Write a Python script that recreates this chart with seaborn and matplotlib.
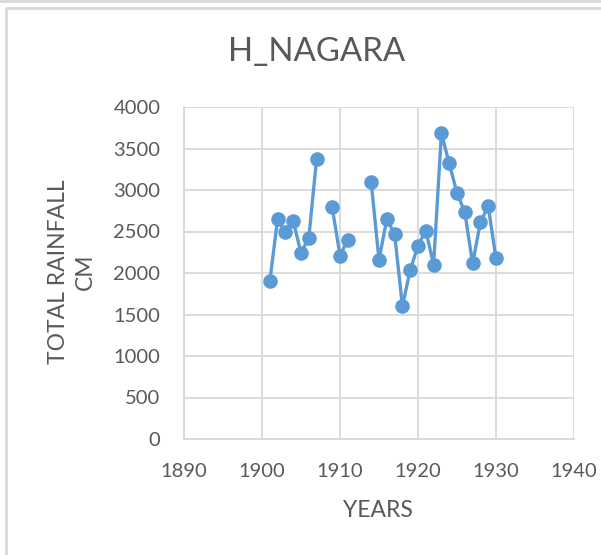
import numpy as np
import pandas as pd
import matplotlib
matplotlib.use("Agg")
import matplotlib.pyplot as plt
from matplotlib.lines import Line2D
import seaborn as sns

# Data (missing years leave gaps in the line)
years = [1901, 1902, 1903, 1904, 1905, 1906, 1907,
         1909, 1910, 1911,
         1914, 1915, 1916, 1917, 1918, 1919, 1920, 1921, 1922, 1923,
         1924, 1925, 1926, 1927, 1928, 1929, 1930]
rainfall = [1900, 2650, 2490, 2630, 2240, 2425, 3375,
            2790, 2210, 2400,
            3095, 2155, 2650, 2470, 1600, 2035, 2330, 2510, 2100, 3685,
            3320, 2965, 2730, 2115, 2610, 2805, 2175]
x_ticks = [1890, 1900, 1910, 1920, 1930, 1940]
y_ticks = [0, 500, 1000, 1500, 2000, 2500, 3000, 3500, 4000]

df = pd.DataFrame({"year": years, "rain": rainfall})
# split into runs of consecutive years so gaps are not bridged
df["segment"] = (df["year"].diff() != 1).cumsum()

sns.set_style("white")
plt.rcParams["font.family"] = ["Lato", "DejaVu Sans"]

text_col = "#595959"
grid_col = "#D9D9D9"
line_col = "#5B9BD5"

fig = plt.figure(figsize=(6.01, 5.55), dpi=100)
ax = fig.add_axes([184 / 601, 1 - 439 / 555, 390 / 601, 332 / 555])

sns.lineplot(data=df, x="year", y="rain", units="segment", estimator=None,
             color=line_col, linewidth=2.4, marker="o", markersize=10.5,
             markeredgewidth=0, ax=ax)

ax.set_xlim(1890, 1940)
ax.set_ylim(0, 4000)
ax.set_xticks(x_ticks)
ax.set_yticks(y_ticks)
ax.grid(True, color=grid_col, linewidth=1.3)
ax.set_axisbelow(True)
for side in ["top", "right"]:
    ax.spines[side].set_visible(False)
for side in ["left", "bottom"]:
    ax.spines[side].set_color(grid_col)
    ax.spines[side].set_linewidth(1.3)
ax.tick_params(axis="x", length=0, labelsize=14.5, labelcolor=text_col, pad=17)
ax.tick_params(axis="y", length=0, labelsize=14.5, labelcolor=text_col, pad=17)

ax.set_xlabel("YEARS", fontsize=16.5, color=text_col, va="center")
ax.xaxis.set_label_coords(0.497, -0.214)
ax.set_ylabel("")
fig.text(72 / 601, 1 - 272 / 555, "TOTAL RAINFALL\nCM", fontsize=16.5,
         color=text_col, rotation=90, ha="center", va="center",
         linespacing=1.35, multialignment="center")
fig.text(0.527, 0.906, "H_NAGARA", fontsize=23.8, color=text_col,
         ha="center", va="center")

# chart-area border (left and top edges visible)
fig.lines.append(Line2D([0, 1], [1 - 1 / 555, 1 - 1 / 555],
                        transform=fig.transFigure, color=grid_col, linewidth=2))
fig.lines.append(Line2D([6 / 601, 6 / 601, 1], [0, 1 - 8 / 555, 1 - 8 / 555],
                        transform=fig.transFigure, color=grid_col, linewidth=2))

fig.savefig("out.png", dpi=100)
